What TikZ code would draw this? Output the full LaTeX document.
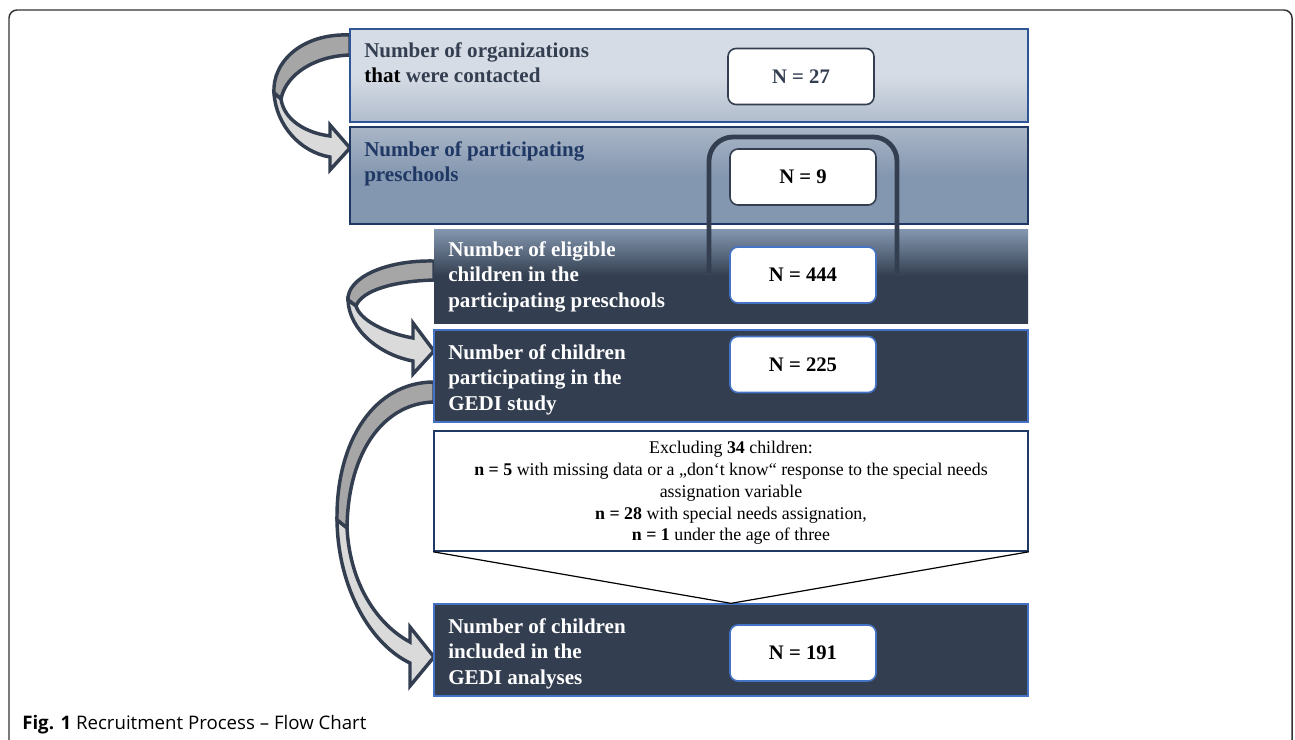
\documentclass[tikz,border=0pt]{standalone}
\usepackage{fontspec}
\setmainfont{Liberation Serif}
\setsansfont{Open Sans}
\usetikzlibrary{fit}

\begin{document}
\begin{tikzpicture}[x=0.75pt,y=-0.75pt,
  box/.style={inner sep=0pt,line width=1pt},
  nbox/.style={draw,fill=white,rounded corners=6pt,line width=1.2pt,
    minimum width=109.5pt,minimum height=42pt,inner sep=0pt,
    font=\fontsize{15.5}{18}\selectfont\bfseries},
  boxlabel/.style={anchor=north west,inner sep=0pt,align=left,
    font=\fontsize{15.8}{19.3}\selectfont\bfseries},
  backband/.style={fill=bandback,draw=slate,line width=2.6pt},
  frontband/.style={fill=bandfront,draw=slate,line width=2.6pt}]
\definecolor{slate}{RGB}{51,63,80}
\definecolor{navy}{RGB}{31,56,100}
\definecolor{accent}{RGB}{68,114,196}
\definecolor{rim}{RGB}{47,85,151}
\definecolor{bandback}{RGB}{166,166,166}
\definecolor{bandfront}{RGB}{218,218,218}
\definecolor{paletop}{RGB}{214,220,229}
\definecolor{palebot}{RGB}{176,188,204}
\definecolor{midtop}{RGB}{170,182,199}
\definecolor{midbot}{RGB}{132,151,176}

\useasboundingbox (0,0) rectangle (1295,739);
\fill[white] (0,0) rectangle (1295,739);
\draw[line width=1.1pt,black!80,rounded corners=6pt]
  (9,745) -- (9,10) -- (1292,10) -- (1292,745);

% curved arrows, behind the boxes
\draw[backband] (350,35) .. controls (302,33) and (272,62) .. (274,93)
  -- (281,99) .. controls (286,74) and (315,56) .. (350,55) -- cycle;
\draw[frontband] (274,93) .. controls (276,125) and (300,152) .. (330,157)
  -- (330,170) -- (350,148) -- (330,125) -- (330,136)
  .. controls (306,133) and (284,120) .. (281,99) -- cycle;

\draw[backband] (434,261) .. controls (385,260) and (347,278) .. (348,300)
  -- (356,306) .. controls (362,290) and (395,281) .. (434,280) -- cycle;
\draw[frontband] (348,300) .. controls (349,330) and (380,355) .. (413,361)
  -- (413,374) -- (434,351) -- (413,323) -- (413,338)
  .. controls (385,333) and (360,320) .. (356,306) -- cycle;

\draw[backband] (434,382) .. controls (375,382) and (336,440) .. (337,520)
  -- (347,528) .. controls (348,450) and (385,403) .. (434,402) -- cycle;
\draw[frontband] (337,520) .. controls (338,590) and (372,645) .. (410,663)
  -- (410,686) -- (434,657) -- (410,627) -- (410,642)
  .. controls (378,625) and (350,585) .. (347,528) -- cycle;

% stages
\node[box,fit={(350,29) (1028,122)},draw=rim,top color=paletop,
  bottom color=palebot,middle color=paletop] (contacted) {};
\node[box,fit={(350,127) (1028,224)},draw=navy,top color=midtop,
  bottom color=midbot,middle color=midbot] (preschools) {};
\node[box,fit={(434,229) (1028,323)},top color=midbot,
  bottom color=slate,middle color=slate] (eligible) {};
\node[box,fit={(434,330) (1028,422)},draw=accent,fill=slate] (participating) {};
\node[box,fit={(434,431) (1028,551)},draw=navy,line width=1.2pt,fill=white] (excluded) {};
\node[box,fit={(434,604) (1028,696)},draw=accent,fill=slate] (included) {};

\draw[line width=0.9pt] (excluded.south west) -- (included.north)
  -- (excluded.south east);

% counts
\node[nbox,draw=slate,text=slate] (ncontacted) at (801,76.5) {N = 27};
\node[nbox,draw=slate] (npreschools) at (803,177) {N = 9};
\node[nbox,draw=accent] (neligible) at (803,275) {N = 444};
\node[nbox,draw=accent] (nparticipating) at (803,364.5) {N = 225};
\node[nbox,draw=accent] (nincluded) at (803,653) {N = 191};

\draw[slate,line width=3.6pt,rounded corners=18pt]
  (709,273) -- (709,137) -- (897,137) -- (897,273);

% labels
\node[boxlabel,text=slate] (contactedtxt) at (364,42)
  {Number of organizations\\\textcolor{black}{that} were contacted};
\node[boxlabel,text=navy] (preschoolstxt) at (364,141)
  {Number of participating\\preschools};
\node[boxlabel,text=white] (eligibletxt) at (448,241)
  {Number of eligible\\children in the\\participating preschools};
\node[boxlabel,text=white] (participatingtxt) at (448,344)
  {Number of children\\participating in the\\GEDI study};
\node[boxlabel,text=white] (includedtxt) at (448,618)
  {Number of children\\included in the\\GEDI analyses};

\node[align=center,inner sep=0pt,font=\fontsize{13.4}{16.3}\selectfont]
  (excludedtxt) at (731,493)
  {Excluding \textbf{34} children:\\
   \textbf{n = 5} with missing data or a „don‘t know“ response to the special needs\\
   assignation variable\\
   \textbf{n = 28} with special needs assignation,\\
   \textbf{n = 1} under the age of three};

\node[anchor=base west,inner sep=0pt,font=\sffamily\fontsize{14}{16}\selectfont]
  (caption) at (22,729) {\textbf{Fig. 1} Recruitment Process – Flow Chart};
\end{tikzpicture}
\end{document}
